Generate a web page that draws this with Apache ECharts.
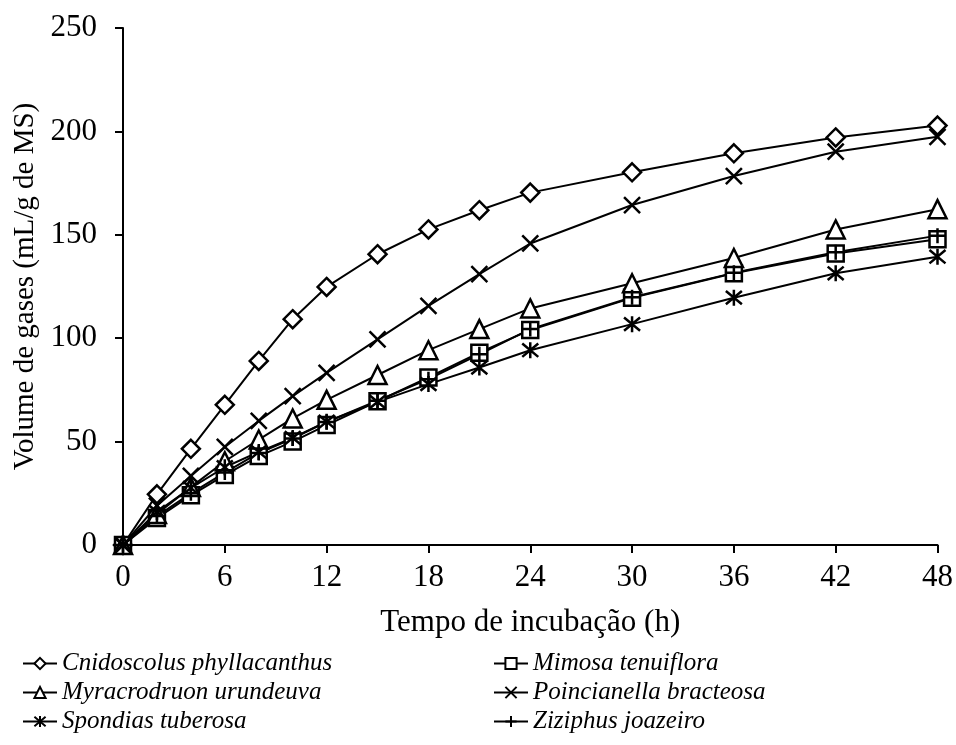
<!DOCTYPE html>
<html lang="pt">
<head>
    <meta charset="UTF-8">
    <title>Volume de gases</title>
    <script src="https://cdn.jsdelivr.net/npm/echarts@6/dist/echarts.min.js"></script>
    <style>
        html,body{margin:0;padding:0;background:#fff;}
        #chart{width:956px;height:745px;}
    </style>
</head>
<body>
<div id="chart"></div>
<script>
    'use strict';
    // tempo de incubação (h)
    var horas=[0,2,4,6,8,10,12,15,18,21,24,30,36,42,48];
    var xTicks=[0,6,12,18,24,30,36,42,48];
    var yTicks=[0,50,100,150,200,250];

    // volume de gases (mL/g de MS)
    var cnidoscolus =[0,24.5,46.5,67.8,89,109.2,124.8,140.6,152.6,161.9,170.4,180.2,189.4,197.1,202.8];
    var mimosa      =[0,13,24,33.8,43,50,58,69.5,81,93,104,119.5,131.4,141,147.8];
    var myracrodruon=[0,15,28,40.5,51,61.2,70.2,82.2,94.2,104.4,114.4,126.6,138.8,152.6,162.4];
    var poincianella=[0,19,33.4,47.4,60,72,83.2,99.4,115.6,131,145.8,164.4,178.4,190.2,197.4];
    var spondias    =[0,16,27.6,37.6,45,51.8,59.6,69.2,77.8,85.8,94.2,106.8,119.6,131.4,139.4];
    var ziziphus    =[0,14,25,35,44.5,51.5,59.5,69.8,80.2,92.2,104.4,119.8,131.6,141.6,149.6];

    var nomes=['Cnidoscolus phyllacanthus','Mimosa tenuiflora','Myracrodruon urundeuva',
        'Poincianella bracteosa','Spondias tuberosa','Ziziphus joazeiro'];

    var SERIF='"Liberation Serif","Times New Roman",serif';
    var X_PATH='path://M0,0L10,10M10,0L0,10';
    var AST_PATH='path://M0,0L10,10M10,0L0,10M5,-1L5,11';
    var PLUS_PATH='path://M5,0L5,10M0,5L10,5';

    function pares(vals){
        return horas.map(function(h,i){return [h,vals[i]];});
    }
    function serie(nome,vals,symbol,size){
        return {
            name:nome,
            type:'line',
            data:pares(vals),
            symbol:symbol,
            symbolSize:size,
            showAllSymbol:true,
            lineStyle:{color:'#000',width:2},
            itemStyle:{color:'#fff',borderColor:'#000',borderWidth:2.5},
            emphasis:{disabled:true},
            animation:false
        };
    }

    var chart=echarts.init(document.getElementById('chart'));
    var legendText={fontFamily:SERIF,fontStyle:'italic',fontSize:25,color:'#000'};
    chart.setOption({
        backgroundColor:'#fff',
        grid:{left:123,right:18,top:28,bottom:200,containLabel:false},
        legend:[{
            data:[nomes[0],nomes[2],nomes[4]],
            orient:'vertical',left:22,top:651,padding:0,itemGap:4,itemWidth:34,itemHeight:14,
            textStyle:legendText
        },{
            data:[nomes[1],nomes[3],nomes[5]],
            orient:'vertical',left:493,top:651,padding:0,itemGap:4,itemWidth:34,itemHeight:14,
            textStyle:legendText
        }],
        xAxis:{
            type:'value',min:xTicks[0],max:xTicks[xTicks.length-1],interval:6,
            name:'Tempo de incubação (h)',nameLocation:'middle',nameGap:62,
            nameTextStyle:{fontFamily:SERIF,fontSize:31,color:'#000'},
            axisLine:{lineStyle:{color:'#000',width:2}},
            axisTick:{show:true,length:8,lineStyle:{color:'#000',width:2}},
            axisLabel:{fontFamily:SERIF,fontSize:31,color:'#000',margin:17},
            splitLine:{show:false}
        },
        yAxis:{
            type:'value',min:yTicks[0],max:yTicks[yTicks.length-1],interval:50,
            name:'Volume de gases (mL/g de MS)',nameLocation:'middle',nameGap:78,
            nameTextStyle:{fontFamily:SERIF,fontSize:29,color:'#000'},
            axisLine:{show:true,lineStyle:{color:'#000',width:2}},
            axisTick:{show:true,length:8,lineStyle:{color:'#000',width:2}},
            axisLabel:{fontFamily:SERIF,fontSize:31,color:'#000',margin:26},
            splitLine:{show:false}
        },
        series:[
            serie(nomes[0],cnidoscolus,'diamond',18),
            serie(nomes[1],mimosa,'rect',16),
            serie(nomes[2],myracrodruon,'triangle',18),
            serie(nomes[3],poincianella,X_PATH,16),
            serie(nomes[4],spondias,AST_PATH,16),
            serie(nomes[5],ziziphus,PLUS_PATH,15)
        ]
    });
</script>
</body>
</html>
